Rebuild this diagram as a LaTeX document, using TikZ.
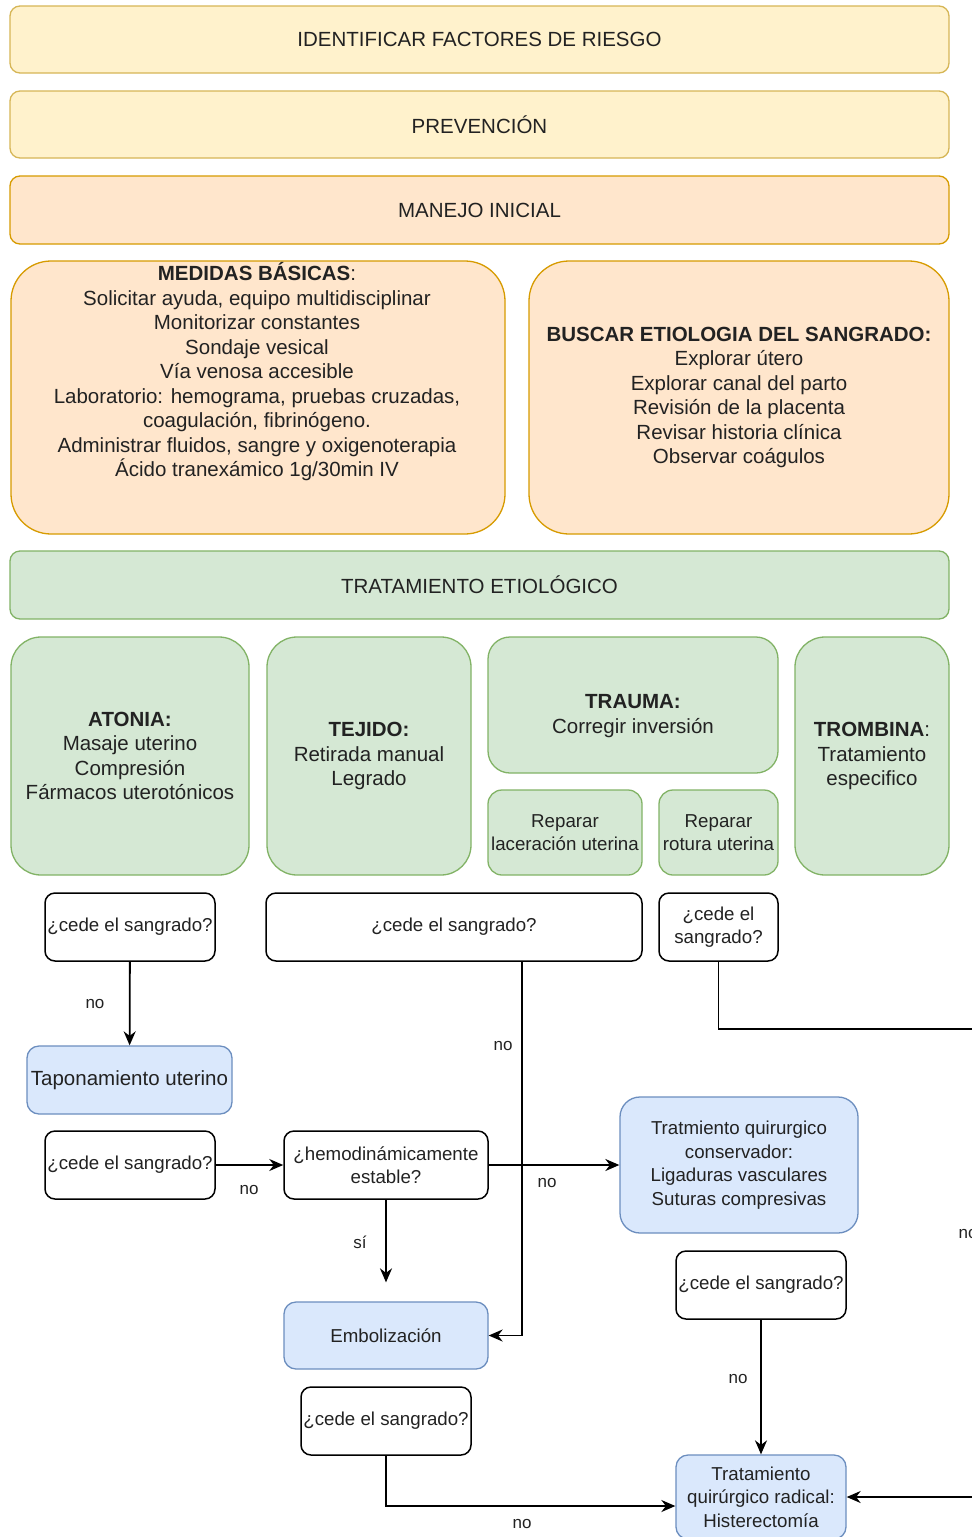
\documentclass[tikz,border=0pt]{standalone}
\usepackage{fontspec}
\setmainfont{Liberation Sans}
\usetikzlibrary{arrows.meta}
\definecolor{txt}{HTML}{222222}
\definecolor{yfill}{HTML}{FFF2CC}
\definecolor{ystroke}{HTML}{D6B656}
\definecolor{ofill}{HTML}{FFE6CC}
\definecolor{ostroke}{HTML}{D79B00}
\definecolor{gfill}{HTML}{D5E8D4}
\definecolor{gstroke}{HTML}{82B366}
\definecolor{bfill}{HTML}{DAE8FC}
\definecolor{bstroke}{HTML}{6C8EBF}
\newcommand{\bigtxt}{\fontsize{20.5}{24.5}\selectfont}
\newcommand{\smalltxt}{\fontsize{18.7}{23.5}\selectfont}
\newcommand{\labtxt}{\fontsize{17}{20}\selectfont}
\tikzset{
  box/.style={draw, line width=1.3pt, text=txt, align=center, inner sep=0pt},
  ybox/.style={box, fill=yfill, draw=ystroke, rounded corners=10pt, font=\bigtxt},
  obox/.style={box, fill=ofill, draw=ostroke, font=\bigtxt},
  gbox/.style={box, fill=gfill, draw=gstroke, font=\bigtxt},
  bbox/.style={box, fill=bfill, draw=bstroke, rounded corners=12pt, font=\smalltxt},
  qbox/.style={box, fill=white, draw=black, line width=1.5pt, rounded corners=10pt, font=\smalltxt},
  plain/.style={text=txt, align=center, inner sep=0pt},
  lab/.style={text=txt, inner sep=0pt, font=\labtxt},
  arr/.style={draw=black, line width=1.8pt, -{Stealth[length=14pt,width=12pt]}},
  ln/.style={draw=black, line width=1.8pt}
}
\begin{document}
\begin{tikzpicture}[x=1pt, y=-1pt]
\useasboundingbox[fill=white] (0,0) rectangle (972,1537);

% top bars
\node[ybox, minimum width=939pt, minimum height=67pt] (riesgo) at (479.5,39.5) {IDENTIFICAR FACTORES DE RIESGO};
\node[ybox, minimum width=939pt, minimum height=67pt] (prev) at (479.5,124.5) {PREVENCIÓN};
\node[obox, rounded corners=10pt, minimum width=939pt, minimum height=68pt] (manejo) at (479.5,210) {MANEJO INICIAL};

% medidas basicas
\node[obox, rounded corners=40pt, minimum width=494pt, minimum height=273pt] (medidas) at (258,397.5) {};
\node[plain, font=\bigtxt] (medtxt) at (257,372) {{\bfseries MEDIDAS BÁSICAS}:\\Solicitar ayuda, equipo multidisciplinar\\Monitorizar constantes\\Sondaje vesical\\Vía venosa accesible\\Laboratorio: hemograma, pruebas cruzadas,\\coagulación, fibrinógeno.\\Administrar fluidos, sangre y oxigenoterapia\\Ácido tranexámico 1g/30min IV};

\node[obox, rounded corners=40pt, minimum width=420pt, minimum height=273pt] (buscar) at (739,397.5) {{\bfseries BUSCAR ETIOLOGIA DEL SANGRADO:}\\Explorar útero\\Explorar canal del parto\\Revisión de la placenta\\Revisar historia clínica\\Observar coágulos};

% tratamiento etiologico
\node[gbox, rounded corners=10pt, minimum width=939pt, minimum height=68pt] (trat) at (479.5,585) {TRATAMIENTO ETIOLÓGICO};

\node[gbox, rounded corners=30pt, minimum width=238pt, minimum height=238pt] (atonia) at (130,756) {{\bfseries ATONIA:}\\Masaje uterino\\Compresión\\Fármacos uterotónicos};
\node[gbox, rounded corners=30pt, minimum width=204pt, minimum height=238pt] (tejido) at (369,756) {{\bfseries TEJIDO:}\\Retirada manual\\Legrado};
\node[gbox, rounded corners=22pt, minimum width=290pt, minimum height=136pt] (trauma) at (633,705) {};
\node[plain, font=\bigtxt] (trautxt) at (633,716) {{\bfseries TRAUMA:}\\Corregir inversión};
\node[gbox, rounded corners=14pt, font=\smalltxt, minimum width=154pt, minimum height=85pt] (lacer) at (565,832.5) {Reparar\\laceración uterina};
\node[gbox, rounded corners=14pt, font=\smalltxt, minimum width=119pt, minimum height=85pt] (rotura) at (718.5,832.5) {Reparar\\rotura uterina};
\node[gbox, rounded corners=30pt, minimum width=154pt, minimum height=238pt] (trombina) at (872,756) {{\bfseries TROMBINA}:\\Tratamiento\\especifico};

% decision boxes
\node[qbox, minimum width=170pt, minimum height=68pt] (q1) at (130,927) {¿cede el sangrado?};
\node[qbox, minimum width=376pt, minimum height=68pt] (q2) at (454,927) {¿cede el sangrado?};
\node[qbox, minimum width=119pt, minimum height=68pt] (q3) at (718.5,927) {¿cede el\\sangrado?};
\node[bbox, font=\bigtxt, minimum width=205pt, minimum height=68pt] (tapon) at (129.5,1080) {Taponamiento uterino};
\node[qbox, minimum width=170pt, minimum height=68pt] (q4) at (130,1165) {¿cede el sangrado?};
\node[qbox, minimum width=204pt, minimum height=68pt] (hemo) at (386,1165) {¿hemodinámicamente\\estable?};
\node[bbox, rounded corners=20pt, minimum width=238pt, minimum height=136pt] (conserv) at (739,1165) {Tratmiento quirurgico\\conservador:\\Ligaduras vasculares\\Suturas compresivas};
\node[qbox, minimum width=170pt, minimum height=68pt] (q5) at (761,1285) {¿cede el sangrado?};
\node[bbox, minimum width=204pt, minimum height=67pt] (embol) at (386,1335.5) {Embolización};
\node[qbox, minimum width=170pt, minimum height=68pt] (q6) at (386,1421) {¿cede el sangrado?};
\node[bbox, minimum width=170pt, minimum height=84pt] (radical) at (761,1497) {Tratamiento\\quirúrgico radical:\\Histerectomía};

% connectors
\coordinate (rA) at (990,1029);
\coordinate (rB) at (990,1497);
\draw[arr] (q1) -- (tapon);
\draw[arr] (q4) -- (hemo);
\draw[arr] (hemo) -- (conserv);
\draw[arr, shorten >=19pt] (hemo) -- (embol);
\draw[arr] ([xshift=68pt]q2.south) |- (embol.east);
\draw[arr] (q5) -- (radical);
\draw[arr] (q6.south) |- ([yshift=-9pt]radical.west);
\draw[arr] (q3.south) |- (rA) -- (rB) -- (radical.east);

% labels
\node[lab] (l1) at (95,1004) {no};
\node[lab] (l2) at (249,1190) {no};
\node[lab] (l3) at (547,1183) {no};
\node[lab] (l4) at (360,1242) {sí};
\node[lab] (l5) at (503,1046) {no};
\node[lab] (l6) at (738,1379) {no};
\node[lab] (l7) at (522,1524) {no};
\node[lab] (l8) at (968,1234) {no};
\end{tikzpicture}
\end{document}
